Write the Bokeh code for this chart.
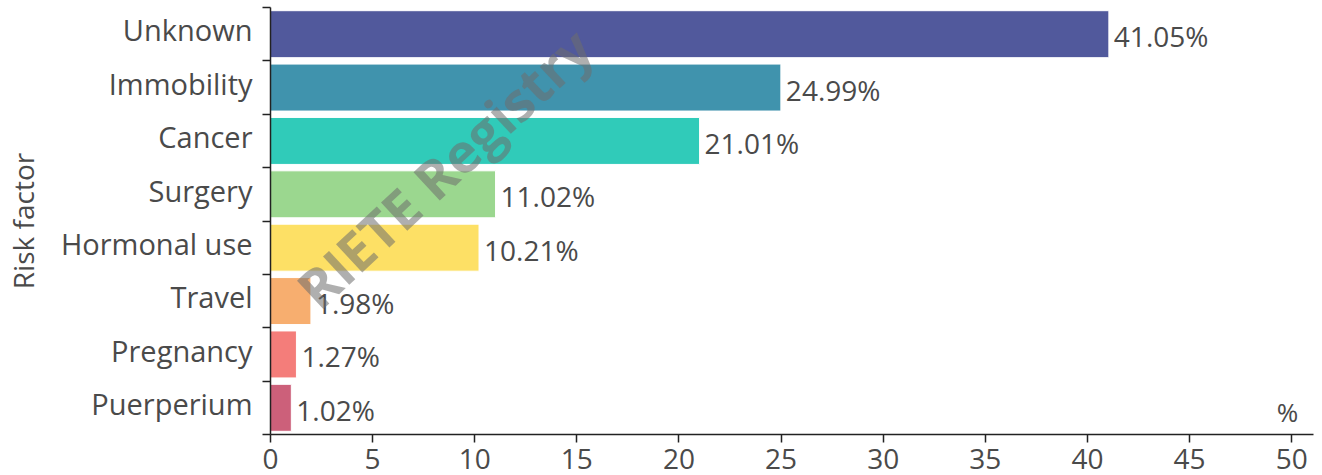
from bokeh.plotting import figure
from bokeh.models import Range1d, FixedTicker, ColumnDataSource, Label
from bokeh.core.properties import value
from bokeh.embed import file_html
from bokeh.resources import INLINE

categories = ["Unknown", "Immobility", "Cancer", "Surgery", "Hormonal use", "Travel", "Pregnancy", "Puerperium"]
percent = [41.05, 24.99, 21.01, 11.02, 10.21, 1.98, 1.27, 1.02]
colors = ["#51599c", "#4093ad", "#30cbb9", "#9bd78f", "#fde065", "#f7ae6f", "#f47d7a", "#cc607a"]
x_ticks = [0, 5, 10, 15, 20, 25, 30, 35, 40, 45, 50]

n = len(categories)
ypos = [n - 1 - i + 0.5 for i in range(n)]
label_pos = [y + 0.08 for y in ypos]
labels = ["%.2f%%" % v for v in percent]

src = ColumnDataSource(dict(y=ypos, right=percent, color=colors, label=labels, cat=categories))

FONT = "Open Sans"
TXT = "#4a4a4a"

p = figure(width=1322, height=475, output_backend="svg", toolbar_location=None,
           x_range=Range1d(0, 51.07), y_range=Range1d(0, n))
p.min_border_left = 267
p.min_border_right = 9
p.min_border_top = 7
p.min_border_bottom = 41
p.outline_line_color = None
p.xgrid.visible = False
p.ygrid.visible = False
p.background_fill_color = "white"
p.border_fill_color = "white"

p.hbar(y="y", left=0, right="right", height=0.88, fill_color="color", line_color="white",
       line_width=1, source=src)

p.text(x="right", y="y", text="label", source=src, x_offset=5, y_offset=2,
       text_font=value(FONT), text_font_size="28px", text_color=TXT,
       text_align="left", text_baseline="middle")

# watermark
p.add_layout(Label(x=8.5, y=5.0, text="RIETE Registry", angle=43, angle_units="deg",
                   text_font=FONT, text_font_size="54px", text_font_style="bold",
                   text_color="#6e6e6e", text_alpha=0.55, text_align="center",
                   text_baseline="middle"))

# x axis
xa = p.xaxis[0]
xa.ticker = FixedTicker(ticks=x_ticks)
xa.major_tick_out = 8
xa.major_tick_in = 0
xa.minor_tick_out = 0
xa.minor_tick_in = 0
xa.axis_line_width = 1.5
xa.axis_line_color = "#222222"
xa.major_tick_line_color = "#222222"
xa.major_tick_line_width = 1.5
xa.major_label_text_font = FONT
xa.major_label_text_font_size = "28px"
xa.major_label_text_color = TXT
xa.major_label_standoff = 6

p.add_layout(Label(x=49.8, y=0.43, text="%", text_font=FONT, text_font_size="26px",
                   text_color=TXT, text_align="center", text_baseline="middle"))

# y axis
ya = p.yaxis[0]
ya.ticker = FixedTicker(ticks=label_pos, minor_ticks=list(range(n + 1)))
ya.major_label_overrides = {y: c for y, c in zip(label_pos, categories)}
ya.major_tick_out = 0
ya.major_tick_in = 0
ya.minor_tick_out = 8
ya.minor_tick_in = 0
ya.minor_tick_line_color = "#222222"
ya.minor_tick_line_width = 1.5
ya.axis_line_width = 1.5
ya.axis_line_color = "#222222"
ya.major_label_text_font = FONT
ya.major_label_text_font_size = "29px"
ya.major_label_text_color = TXT
ya.major_label_standoff = 10
ya.axis_label = "Risk factor"
ya.axis_label_text_font = FONT
ya.axis_label_text_font_size = "28px"
ya.axis_label_text_font_style = "normal"
ya.axis_label_text_color = TXT
ya.axis_label_standoff = 16

open("out.html", "w").write(file_html(p, INLINE))
